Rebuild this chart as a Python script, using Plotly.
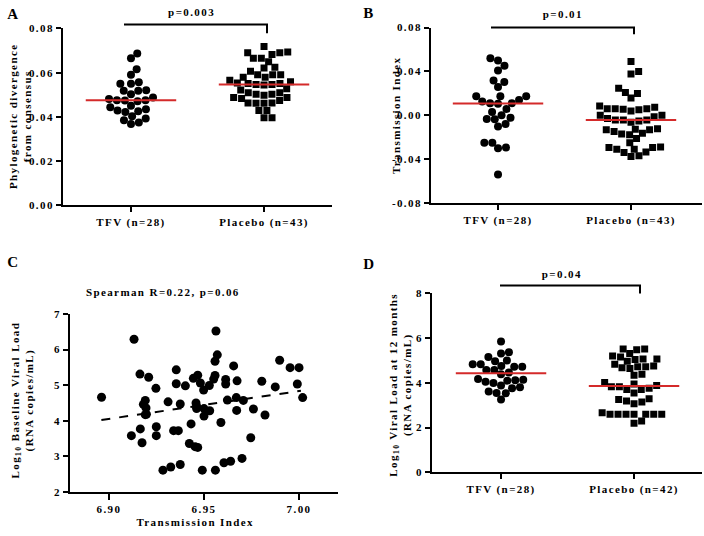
import numpy as np
import plotly.graph_objects as go

W, H = 704, 536

# ---------------- data ----------------
groups_ab = ["TFV (n=28)", "Placebo (n=43)"]
groups_d = ["TFV (n=28)", "Placebo (n=42)"]

a_tfv = [0.0687, 0.0665, 0.0616, 0.0591, 0.0550, 0.0557, 0.0550, 0.0518, 0.0518, 0.0521,
         0.0503, 0.0481, 0.0476, 0.0471, 0.0474, 0.0476, 0.0488, 0.0451, 0.0435, 0.0444,
         0.0426, 0.0422, 0.0429, 0.0403, 0.0385, 0.0393, 0.0368, 0.0375]
a_placebo = [0.0719, 0.0694, 0.0682, 0.0690, 0.0665, 0.0690, 0.0665, 0.0650, 0.0625, 0.0621,
             0.0607, 0.0591, 0.0591, 0.0591, 0.0579, 0.0566, 0.0579, 0.0559, 0.0554, 0.0551,
             0.0547, 0.0544, 0.0547, 0.0551, 0.0528, 0.0522, 0.0510, 0.0503, 0.0498, 0.0503,
             0.0510, 0.0488, 0.0484, 0.0488, 0.0463, 0.0462, 0.0462, 0.0463, 0.0474, 0.0429,
             0.0429, 0.0396, 0.0396]

b_tfv = [0.0520, 0.0499, 0.0452, 0.0410, 0.0319, 0.0304, 0.0260, 0.0174, 0.0174, 0.0174,
         0.0127, 0.0112, 0.0142, 0.0106, 0.0112, 0.0059, 0.0032, 0.0003, -0.0035, -0.0021,
         -0.0032, -0.0100, -0.0077, -0.0248, -0.0248, -0.0292, -0.0298, -0.0537]
b_placebo = [0.0490, 0.0378, 0.0399, 0.0248, 0.0210, 0.0201, 0.0159,
             0.0086, 0.0062, 0.0062, 0.0053, 0.0041, 0.0056, 0.0062, 0.0074,
             0.0003, -0.0027, -0.0041, -0.0062, -0.0050, -0.0041, -0.0041, -0.0012, 0.0003,
             -0.0130, -0.0174, -0.0124, -0.0210, -0.0168, -0.0130, -0.0162, -0.0121, -0.0145, -0.0248,
             -0.0292, -0.0307, -0.0286, -0.0337, -0.0292, -0.0372, -0.0366, -0.0331, -0.0307]

c_ti = [6.8961, 6.9132, 6.9163, 6.9209, 6.9247, 6.9191, 6.9181, 6.9195, 6.9191, 6.9197,
        6.9165, 6.9118, 6.9174, 6.9249, 6.9249, 6.9311, 6.9354, 6.9354, 6.9402, 6.9375,
        6.9340, 6.9365, 6.9432, 6.9423, 6.9453, 6.9467, 6.9444, 6.9467, 6.9481, 6.9498,
        6.9528, 6.9458, 6.9461, 6.9461, 6.9500, 6.9530, 6.9500, 6.9551, 6.9558, 6.9558,
        6.9570, 6.9563, 6.9589, 6.9614, 6.9614, 6.9623, 6.9656, 6.9674, 6.9670, 6.9672,
        6.9707, 6.9746, 6.9760, 6.9804, 6.9821, 6.9875, 6.9898, 6.9953, 7.0000, 6.9991,
        7.0019, 6.9284, 6.9325, 6.9375, 6.9491, 6.9560, 6.9605, 6.9640, 6.9700]
c_vl = [4.66, 6.29, 5.31, 5.22, 4.91, 4.57, 4.46, 4.36, 4.17, 4.18,
        3.77, 3.58, 3.38, 3.83, 3.58, 4.53, 5.43, 5.04, 4.98, 4.47,
        3.72, 3.72, 3.91, 3.36, 3.27, 3.25, 5.19, 5.28, 5.06, 4.86,
        4.99, 4.50, 4.41, 4.34, 4.34, 4.28, 4.13, 5.17, 5.27, 5.67,
        5.85, 6.52, 3.95, 5.16, 5.03, 4.58, 5.54, 5.12, 4.65, 4.29,
        4.57, 3.52, 4.33, 5.11, 4.16, 4.95, 5.70, 5.49, 5.49, 5.03,
        4.65, 2.61, 2.70, 2.77, 2.61, 2.61, 2.82, 2.86, 2.94]
c_fit_x = [6.896, 7.001]
c_fit_y = [4.02, 4.84]

d_tfv = [5.85, 5.37, 5.16, 5.31, 4.97, 5.00, 4.83, 4.72, 4.72, 4.75,
         4.83, 4.58, 4.58, 4.39, 4.46, 4.10, 3.99, 4.14, 4.17, 4.05,
         4.12, 3.80, 3.76, 3.88, 3.55, 3.54, 3.61, 3.26]
d_placebo = [5.51, 5.31, 5.48, 5.51, 5.20, 5.07, 4.97, 5.16, 5.05, 5.07,
             4.72, 4.68, 4.75, 4.83, 4.64, 4.72, 4.39, 4.34, 4.02, 3.83,
             3.70, 3.55, 3.88, 3.70, 3.95, 3.76, 3.83, 3.29, 3.19, 3.07,
             3.14, 3.26, 2.66, 2.60, 2.60, 2.60, 2.60, 2.60, 2.60, 2.60,
             2.19, 2.30]

a_ticks = [0.0, 0.02, 0.04, 0.06, 0.08]
a_ticktext = ["0.00", "0.02", "0.04", "0.06", "0.08"]
b_ticks = [-0.08, -0.04, 0.0, 0.04, 0.08]
b_ticktext = ["-0.08", "-0.04", "0.00", "0.04", "0.08"]
c_xticks = [6.90, 6.95, 7.00]
c_xticktext = ["6.90", "6.95", "7.00"]
c_yticks = [2, 3, 4, 5, 6, 7]
d_ticks = [0, 2, 4, 6, 8]

# ---------------- layout helpers ----------------
FONT = "Liberation Serif"
RED = "#d42a2a"

def px_dom(x0, x1, y0, y1):
    return [x0 / W, x1 / W], [1 - y1 / H, 1 - y0 / H]

def swarm(vals, px_per_y, d):
    vals = np.asarray(vals, dtype=float)
    order = np.argsort(vals, kind="stable")
    placed = []
    offs = np.zeros(len(vals))
    for i in order:
        y = vals[i] * px_per_y
        cands = [0.0]
        for (px, py) in placed:
            dy = y - py
            if abs(dy) < d:
                dx = np.sqrt(d * d - dy * dy)
                cands += [px + dx, px - dx]
        cands = sorted(cands, key=abs)
        for c in cands:
            if all((c - px) ** 2 + (y - py) ** 2 >= d * d - 1e-6 for px, py in placed):
                offs[i] = c
                placed.append((c, y))
                break
    return offs

fig = go.Figure()

panels = {
    "A": dict(box=(63, 332, 23, 204), xr=[-0.511, 1.511], yr=[0, 0.08]),
    "B": dict(box=(431, 702, 22, 202), xr=[-0.504, 1.534], yr=[-0.08, 0.08]),
    "C": dict(box=(70, 338, 315, 497), xr=[6.8795, 7.0205], yr=[2, 7]),
    "D": dict(box=(432, 702, 294, 477), xr=[-0.519, 1.511], yr=[0, 8]),
}
axnames = {"A": ("x", "y"), "B": ("x2", "y2"), "C": ("x3", "y3"), "D": ("x4", "y4")}

axis_common = dict(showgrid=False, zeroline=False, showline=True, linecolor="black",
                   linewidth=2, ticks="outside", ticklen=5, tickwidth=2, tickcolor="black",
                   tickfont=dict(family=FONT, size=11, color="black", weight="bold"))

layout_axes = {}
for key, p in panels.items():
    x0, x1, y0, y1 = p["box"]
    xd, yd = px_dom(x0, x1, y0, y1)
    xn, yn = axnames[key]
    xk = "xaxis" + xn[1:]
    yk = "yaxis" + yn[1:]
    layout_axes[xk] = dict(axis_common, domain=xd, range=p["xr"], anchor=yn)
    layout_axes[yk] = dict(axis_common, domain=yd, range=p["yr"], anchor=xn)

layout_axes["xaxis"].update(tickvals=[0, 1], ticktext=groups_ab)
layout_axes["yaxis"].update(tickvals=a_ticks, ticktext=a_ticktext)
layout_axes["xaxis2"].update(tickvals=[0, 1], ticktext=groups_ab)
layout_axes["yaxis2"].update(tickvals=b_ticks, ticktext=b_ticktext)
layout_axes["xaxis3"].update(tickvals=c_xticks, ticktext=c_xticktext, ticklen=6)
layout_axes["yaxis3"].update(tickvals=c_yticks)
layout_axes["xaxis4"].update(tickvals=[0, 1], ticktext=groups_d)
layout_axes["yaxis4"].update(tickvals=d_ticks)

# ---------------- dot plots ----------------
def dot_panel(key, left, right):
    p = panels[key]
    x0, x1, y0, y1 = p["box"]
    px_y = (y1 - y0) / (p["yr"][1] - p["yr"][0])
    px_x = (x1 - x0) / (p["xr"][1] - p["xr"][0])
    xn, yn = axnames[key]
    for ci, (vals, sym, size) in enumerate([(left, "circle", 8), (right, "square", 7)]):
        offs = swarm(vals, px_y, 8.0) / px_x + ci
        fig.add_trace(go.Scatter(x=offs, y=vals, mode="markers", xaxis=xn, yaxis=yn,
                                 marker=dict(symbol=sym, size=size, color="black",
                                             line=dict(width=0)),
                                 showlegend=False, hoverinfo="skip"))
        med = float(np.median(vals))
        fig.add_trace(go.Scatter(x=[ci - 0.34, ci + 0.34], y=[med, med], mode="lines",
                                 xaxis=xn, yaxis=yn, line=dict(color=RED, width=2),
                                 showlegend=False, hoverinfo="skip"))

dot_panel("A", a_tfv, a_placebo)
dot_panel("B", b_tfv, b_placebo)
dot_panel("D", d_tfv, d_placebo)

# ---------------- scatter C ----------------
fig.add_trace(go.Scatter(x=c_ti, y=c_vl, mode="markers", xaxis="x3", yaxis="y3",
                         marker=dict(symbol="circle", size=9, color="black", line=dict(width=0)),
                         showlegend=False, hoverinfo="skip"))
fig.add_trace(go.Scatter(x=c_fit_x, y=c_fit_y, mode="lines", xaxis="x3", yaxis="y3",
                         line=dict(color="black", width=2, dash="dash"),
                         showlegend=False, hoverinfo="skip"))

# ---------------- annotations ----------------
def ann(text, x, y, size=11, angle=0):
    return dict(text=text, x=x / W, y=1 - y / H, xref="paper", yref="paper",
                xanchor="center", yanchor="middle", showarrow=False, textangle=angle,
                font=dict(family=FONT, size=size, color="black", weight="bold"))

annotations = [
    ann("A", 13, 8, 15), ann("B", 369, 7, 15), ann("C", 13, 262, 15), ann("D", 369, 264, 15),
    ann("p=0.003", 192, 6), ann("p=0.01", 563, 8), ann("p=0.04", 562, 274),
    ann("Phylogenetic divergence<br>from consensus", 20, 113.5, 11, -90),
    ann("Transmission Index", 396, 112, 11, -90),
    ann("Log<sub>10</sub> Baseline Viral Load<br>(RNA copies/mL)", 23, 403, 11, -90),
    ann("Log<sub>10</sub> Viral Load at 12 months<br>(RNA copies/mL)", 400, 387, 11, -90),
    ann("Spearman R=0.22, p=0.06", 163, 293),
    ann("Transmission Index", 196, 528),
]

def seg(xa, ya, xb, yb):
    return dict(type="line", xref="paper", yref="paper", x0=xa / W, y0=1 - ya / H,
                x1=xb / W, y1=1 - yb / H, line=dict(color="black", width=2))

shapes = [
    seg(124, 19, 268, 19), seg(267, 19, 267, 28),
    seg(491, 22, 635, 22), seg(634, 22, 634, 29),
    seg(500, 286, 641, 286), seg(640, 286, 640, 294),
]

fig.update_layout(width=W, height=H, margin=dict(l=0, r=0, t=0, b=0),
                  paper_bgcolor="white", plot_bgcolor="white", showlegend=False,
                  font=dict(family=FONT, color="black", weight="bold"),
                  annotations=annotations, shapes=shapes, **layout_axes)

fig.write_html("out.html", config={"displayModeBar": False},
               post_script=("document.body.style.margin='0';"
                            "document.querySelectorAll('svg.main-svg text').forEach("
                            "function(t){t.style.letterSpacing='1.4px';});"))
